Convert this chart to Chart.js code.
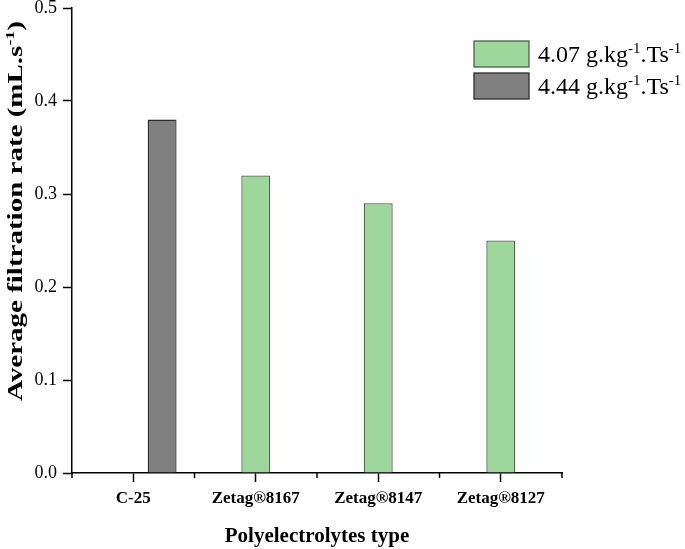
<!DOCTYPE html>
<html><head><meta charset="utf-8">
<script src="https://cdn.jsdelivr.net/npm/chart.js@4"></script>
<style>html,body{margin:0;padding:0;background:#fff}#wrap{width:685px;height:549px}</style>
</head><body><div id="wrap"><canvas id="c" width="685" height="549"></canvas></div>
<script>
const categories = ['C-25', 'Zetag®8167', 'Zetag®8147', 'Zetag®8127'];
const series407 = [null, 0.32, 0.29, 0.25];
const series444 = [0.38, null, null, null];
const spacer = [null, null, null, null];
const yTicks = [0, 0.1, 0.2, 0.3, 0.4, 0.5];
const legendLabels = [['4.07 g.kg', '-1', '.Ts', '-1'], ['4.44 g.kg', '-1', '.Ts', '-1']];

const FONT = "'Liberation Serif', 'Times New Roman', serif";

function drawSup(ctx, parts, x, y, size, bold) {
  let cx = x;
  parts.forEach((p, i) => {
    const sup = i % 2 === 1;
    const fs = sup ? Math.round(size * 0.62) : size;
    ctx.font = (bold ? 'bold ' : '') + fs + 'px ' + FONT;
    ctx.fillText(p, cx, sup ? y - size * 0.38 : y);
    cx += ctx.measureText(p).width;
  });
  return cx - x;
}
function widthSup(ctx, parts, size, bold) {
  let w = 0;
  parts.forEach((p, i) => {
    const sup = i % 2 === 1;
    const fs = sup ? Math.round(size * 0.62) : size;
    ctx.font = (bold ? 'bold ' : '') + fs + 'px ' + FONT;
    w += ctx.measureText(p).width;
  });
  return w;
}

const extras = {
  id: 'extras',
  afterDraw(chart) {
    const ctx = chart.ctx;
    const ca = chart.chartArea;
    const xs = chart.scales.x;
    ctx.save();
    // minor ticks at category boundaries
    ctx.strokeStyle = '#000';
    ctx.lineWidth = 1.5;
    const half = (xs.getPixelForValue(1) - xs.getPixelForValue(0)) / 2;
    for (let i = 0; i <= categories.length; i++) {
      const px = xs.getPixelForValue(0) - half + i * half * 2;
      ctx.beginPath();
      ctx.moveTo(px, ca.bottom);
      ctx.lineTo(px, ca.bottom + 5);
      ctx.stroke();
    }
    // legend
    const ds = [chart.data.datasets[1], chart.data.datasets[2]];
    const bx = ca.right - 88, by = ca.top + 33;
    ds.forEach((d, i) => {
      const y = by + i * 32;
      ctx.fillStyle = d.backgroundColor;
      ctx.fillRect(bx, y, 55, 26);
      ctx.strokeStyle = d.borderColor;
      ctx.lineWidth = 1.3;
      ctx.strokeRect(bx, y, 55, 26);
      ctx.fillStyle = '#000';
      ctx.textBaseline = 'alphabetic';
      ctx.textAlign = 'left';
      drawSup(ctx, legendLabels[i], bx + 64, y + 21, 24, false);
    });
    // y axis title
    const parts = ['Average filtration rate (mL.s', '-1', ')'];
    const tw = widthSup(ctx, parts, 21, true);
    ctx.translate(22, 211);
    ctx.rotate(-Math.PI / 2);
    ctx.scale(380 / tw, 1);
    ctx.fillStyle = '#000';
    drawSup(ctx, parts, -tw / 2, 0, 21, true);
    ctx.restore();
  }
};

new Chart(document.getElementById('c'), {
  type: 'bar',
  data: {
    labels: categories,
    datasets: [
      { label: '', data: spacer, backgroundColor: 'rgba(0,0,0,0)', borderWidth: 0 },
      { label: '4.07 g.kg-1.Ts-1', data: series407, backgroundColor: '#9dd79b', borderColor: '#4d5f4d', borderWidth: 1.3 },
      { label: '4.44 g.kg-1.Ts-1', data: series444, backgroundColor: '#808080', borderColor: '#2b2b2b', borderWidth: 1.3 }
    ]
  },
  options: {
    responsive: false,
    animation: false,
    devicePixelRatio: 1,
    layout: { padding: { left: 0, right: 123, top: 0, bottom: 0 } },
    plugins: { legend: { display: false }, tooltip: { enabled: false } },
    datasets: { bar: { categoryPercentage: 0.707, barPercentage: 1.0 } },
    scales: {
      x: {
        offset: true,
        grid: { display: true, offset: false, drawOnChartArea: false, tickLength: 9, tickColor: '#000', tickWidth: 1.5 },
        border: { display: true, color: '#000', width: 1.5 },
        ticks: { color: '#000', font: { family: FONT, size: 17, weight: 'bold' }, padding: 6, maxRotation: 0 },
        title: { display: true, text: 'Polyelectrolytes type', color: '#000', font: { family: FONT, size: 21, weight: 'bold' }, padding: { top: 6, bottom: 0 } },
        afterFit(s) { s.height = 76; s.paddingLeft = 0; s.paddingRight = 0; }
      },
      y: {
        min: 0, max: 0.5,
        afterBuildTicks(s) { s.ticks = yTicks.map(v => ({ value: v })); },
        grid: { display: true, drawOnChartArea: false, tickLength: 9, tickColor: '#000', tickWidth: 1.5 },
        border: { display: true, color: '#000', width: 1.5 },
        ticks: { color: '#000', font: { family: FONT, size: 18 }, padding: 6, callback: v => v.toFixed(1) },
        afterFit(s) { s.width = 72; s.paddingTop = 8; s.paddingBottom = 0; }
      }
    }
  },
  plugins: [extras]
});
</script></body></html>
